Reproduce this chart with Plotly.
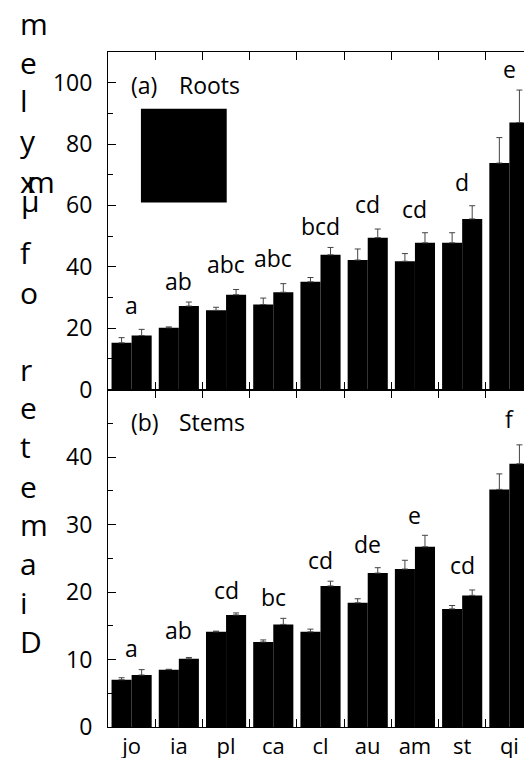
import plotly.graph_objects as go
from plotly.subplots import make_subplots

# ---------------- data ----------------
categories = ["jo", "ia", "pl", "ca", "cl", "au", "am", "st", "qi"]

roots_s1 = [15.2, 20.1, 25.8, 27.7, 35.1, 42.2, 41.8, 47.8, 73.8]
roots_s1_err = [1.7, 0.3, 1.0, 2.1, 1.4, 3.6, 2.5, 3.3, 8.3]
roots_s2 = [17.6, 27.2, 30.9, 31.7, 43.9, 49.5, 47.8, 55.6, 87.0]
roots_s2_err = [2.0, 1.3, 1.7, 2.8, 2.4, 2.8, 3.3, 4.3, 10.6]
roots_letters = ["a", "ab", "abc", "abc", "bcd", "cd", "cd", "d", "e"]
roots_letter_y = [27.5, 35.5, 41.0, 42.8, 53.4, 60.4, 58.8, 67.5, 104.5]

stems_s1 = [7.0, 8.5, 14.1, 12.6, 14.1, 18.4, 23.4, 17.5, 35.2]
stems_s1_err = [0.3, 0.05, 0.1, 0.3, 0.4, 0.6, 1.3, 0.5, 2.3]
stems_s2 = [7.7, 10.1, 16.6, 15.2, 20.9, 22.8, 26.7, 19.5, 39.0]
stems_s2_err = [0.8, 0.2, 0.3, 0.9, 0.7, 0.8, 1.7, 0.8, 2.8]
stems_letters = ["a", "ab", "cd", "bc", "cd", "de", "e", "cd", "f"]
stems_letter_y = [11.7, 14.3, 20.3, 19.3, 24.8, 27.1, 31.4, 24.0, 45.7]

roots_yticks = [0, 20, 40, 60, 80, 100]
roots_minor = [10, 30, 50, 70, 90]
stems_yticks = [0, 10, 20, 30, 40]
stems_minor = [5, 15, 25, 35, 45]

# stacked y-axis title characters (as drawn in the reference)
title_chars = ["m", "e", "l", "y", "x", "m", "µ", "f", "o",
               "r", "e", "t", "e", "m", "a", "i", "D"]

# ---------------- layout constants ----------------
OFF = 8  # default page body margin
W, H = 532, 758
ML, MR, MT, MB = 100, 6, 44, 37
PW, PH = W - ML - MR, H - MT - MB
FONT = "Open Sans"
ERRC = "#444444"
TXT = 23


def px_to_paper(px, py):
    """window pixel -> paper coords (figure is offset by the body margin)"""
    fx, fy = px - OFF, py - OFF
    return (fx - ML) / PW, (H - MB - fy) / PH


fig = make_subplots(rows=2, cols=1, shared_xaxes=True, vertical_spacing=0)

for row, (s1, e1, s2, e2) in enumerate(
        [(roots_s1, roots_s1_err, roots_s2, roots_s2_err),
         (stems_s1, stems_s1_err, stems_s2, stems_s2_err)], start=1):
    for vals, errs in ((s1, e1), (s2, e2)):
        fig.add_trace(go.Bar(
            x=categories, y=vals,
            marker=dict(color="black", line=dict(width=0)),
            error_y=dict(type="data", symmetric=False, array=errs,
                         arrayminus=[0] * len(errs), color=ERRC,
                         thickness=1, width=3),
            showlegend=False), row=row, col=1)

# significance letters
for labs, ys, yref in ((roots_letters, roots_letter_y, "y"),
                       (stems_letters, stems_letter_y, "y2")):
    for c, t, yv in zip(categories, labs, ys):
        fig.add_annotation(x=c, y=yv, xref="x", yref=yref, text=t,
                           showarrow=False, font=dict(size=TXT, color="black", family=FONT),
                           xanchor="center", yanchor="middle")

# panel labels
for txt, px, py in (("(a)", 129, 85), ("Roots", 177, 85),
                    ("(b)", 129, 423), ("Stems", 177, 423)):
    xp, yp = px_to_paper(px, py)
    fig.add_annotation(x=xp, y=yp, xref="paper", yref="paper", text=txt,
                       showarrow=False, xanchor="left", yanchor="middle",
                       font=dict(size=TXT, color="black", family=FONT))

# broken legend box (solid black rectangle)
x0, y0 = px_to_paper(141, 203)
x1, y1 = px_to_paper(227, 109)
fig.add_shape(type="rect", xref="paper", yref="paper", x0=x0, x1=x1, y0=y0, y1=y1,
              fillcolor="black", line=dict(width=0))

# stacked y title characters: (left px, baseline px) in window pixels
title_pos = [(20, 33), (20, 72), (20, 110), (20, 150), (20, 191), (27, 191),
             (21, 211), (20, 263), (20, 303), (20, 380), (20, 418), (20, 457),
             (20, 497), (20, 536), (20, 575), (20, 614), (20, 653)]
TFS = 30
for ch, (px, py) in zip(title_chars, title_pos):
    xp, yp = px_to_paper(px - 2, py - 0.32 * TFS)
    fig.add_annotation(x=xp, y=yp, xref="paper", yref="paper", text=ch,
                       showarrow=False, xanchor="left", yanchor="middle",
                       font=dict(size=TFS, color="black", family=FONT))

axis_common = dict(showline=True, linecolor="black", linewidth=1, mirror="ticks",
                   ticks="inside", tickcolor="black", tickwidth=1, showgrid=False,
                   zeroline=False)

fig.update_xaxes(**axis_common, type="category", tickson="boundaries", ticklen=8,
                 range=[-0.5, 8.5],
                 tickfont=dict(size=22, color="black", family=FONT))

fig.update_yaxes(**axis_common, ticklen=8, ticklabelstandoff=10,
                 tickfont=dict(size=TXT, color="black", family=FONT))
fig.update_yaxes(range=[0, 110], tickmode="array", tickvals=roots_yticks,
                 minor=dict(tickmode="array", tickvals=roots_minor, ticks="inside",
                            ticklen=5, tickcolor="black"), row=1, col=1)
fig.update_yaxes(range=[0, 50], tickmode="array", tickvals=stems_yticks,
                 minor=dict(tickmode="array", tickvals=stems_minor, ticks="inside",
                            ticklen=5, tickcolor="black"), row=2, col=1)

fig.update_layout(width=W, height=H, margin=dict(l=ML, r=MR, t=MT, b=MB, pad=0),
                  barmode="group", bargap=0.15, bargroupgap=0,
                  plot_bgcolor="white", paper_bgcolor="white",
                  font=dict(family=FONT, color="black"))

fig.write_html("out.html")
